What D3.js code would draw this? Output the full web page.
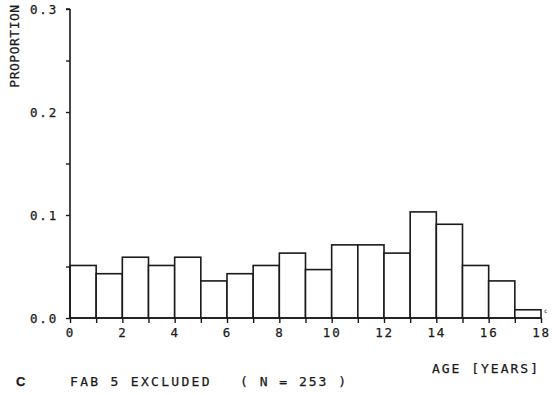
<!DOCTYPE html>
<html>
<head>
<meta charset="utf-8">
<script src="https://cdn.jsdelivr.net/npm/d3@7"></script>
<style>
  body { margin: 0; background: #fff; }
  text { font-family: "DejaVu Sans Mono", monospace; fill: #1a1a1a; stroke: #1a1a1a; stroke-width: 0.25px; }
</style>
</head>
<body>
<div id="chart"></div>
<script>
// age bins (start year) and proportion in each
const binStarts = [0, 1, 2, 3, 4, 5, 6, 7, 8, 9, 10, 11, 12, 13, 14, 15, 16, 17];
const proportions = [0.051, 0.043, 0.059, 0.051, 0.059, 0.036, 0.043, 0.051, 0.063,
                     0.047, 0.071, 0.071, 0.063, 0.103, 0.091, 0.051, 0.036, 0.008];
const yTicks = [0, 0.05, 0.1, 0.15, 0.2, 0.25, 0.3];
const xTicks = [0, 1, 2, 3, 4, 5, 6, 7, 8, 9, 10, 11, 12, 13, 14, 15, 16, 17, 18];

const width = 558;
const height = 395;
const ink = "#1a1a1a";

const svg = d3.select("#chart")
  .append("svg")
  .attr("width", width)
  .attr("height", height);

const x = d3.scaleLinear().domain([0, 18]).range([70, 541]);
const y = d3.scaleLinear().domain([0, 0.3]).range([318, 9]);

// bars
svg.selectAll("rect.bar")
  .data(binStarts)
  .enter()
  .append("rect")
  .attr("class", "bar")
  .attr("x", d => x(d))
  .attr("y", (d, i) => y(proportions[i]))
  .attr("width", d => x(d + 1) - x(d))
  .attr("height", (d, i) => y(0) - y(proportions[i]))
  .attr("fill", "#fff")
  .attr("stroke", ink)
  .attr("stroke-width", 1.6);

// y axis
const yAxis = svg.append("g")
  .attr("transform", `translate(${x(0)},0)`)
  .call(d3.axisLeft(y)
    .tickValues(yTicks)
    .tickSize(4)
    .tickPadding(8)
    .tickFormat(d => Math.abs(d * 10 - Math.round(d * 10)) < 1e-9 ? d3.format(".1f")(d) : ""));

// x axis
const xAxis = svg.append("g")
  .attr("transform", `translate(0,${y(0)})`)
  .call(d3.axisBottom(x)
    .tickValues(xTicks)
    .tickSize(5)
    .tickPadding(5)
    .tickFormat(d => d % 2 === 0 ? d : ""));

[yAxis, xAxis].forEach(g => {
  g.select(".domain").attr("stroke", ink).attr("stroke-width", 1.6);
  g.selectAll(".tick line").attr("stroke", ink).attr("stroke-width", 1.4);
  g.selectAll(".tick text")
    .attr("fill", ink)
    .style("font-size", "12.5px")
    .style("letter-spacing", "1.8px");
});
yAxis.select(".domain").attr("d", `M0,${y(0.3)}H-4M0,${y(0.3)}V${y(0)}`);
xAxis.select(".domain").attr("d", `M${x(0)},0H${x(18)}`);

// y title
svg.append("text")
  .attr("transform", "translate(19,46) rotate(-90)")
  .attr("text-anchor", "middle")
  .style("font-size", "13px")
  .style("letter-spacing", "0.5px")
  .text("PROPORTION");

// x title
svg.append("text")
  .attr("x", 540)
  .attr("y", 373)
  .attr("text-anchor", "end")
  .style("font-size", "13px")
  .style("letter-spacing", "2px")
  .text("AGE [YEARS]");

// caption
svg.append("text")
  .attr("x", 16)
  .attr("y", 386)
  .style("font-family", "'Liberation Sans', Arial, sans-serif")
  .style("font-weight", "bold")
  .style("font-size", "13px")
  .text("C");

svg.append("text")
  .attr("x", 70)
  .attr("y", 386)
  .style("font-size", "13px")
  .style("letter-spacing", "2.3px")
  .text("FAB 5 EXCLUDED");

svg.append("text")
  .attr("x", 240)
  .attr("y", 386)
  .style("font-size", "13px")
  .style("letter-spacing", "2px")
  .text("( N = 253 )");

// small plotter mark beside the last bar
svg.append("text")
  .attr("x", x(18) + 3)
  .attr("y", y(0.005))
  .style("font-size", "6px")
  .style("stroke-width", "0")
  .text("c");
</script>
</body>
</html>
